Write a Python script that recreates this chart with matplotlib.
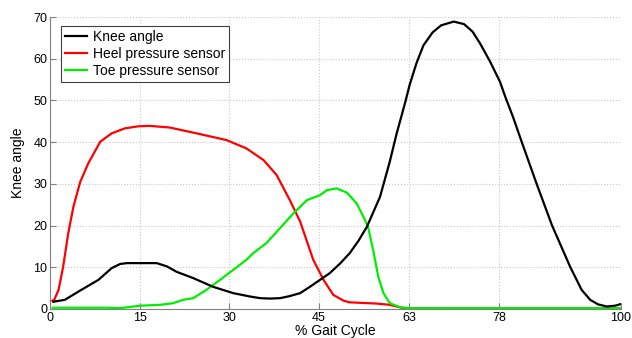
import numpy as np
import matplotlib
matplotlib.use("Agg")
import matplotlib.pyplot as plt
from matplotlib import rcParams

tick_font_size = 9
font_size = 10

rcParams.update({
    "font.family": ["Liberation Sans", "DejaVu Sans"],
    "font.size": font_size,
})

# knee angle (black)
knee_x = [0.6, 2.6, 5.5, 8.5, 10.8, 12.3, 13.5, 16, 18.7, 20.5, 22.2, 25.1, 28.6,
          32.1, 35, 36.8, 38.5, 40.3, 42, 43.8, 45.5, 47.3, 49, 50.8, 52.5, 54,
          55.5, 57.8, 59.5, 60.7, 62.2, 63, 64.2, 65.4, 67, 68.5, 70.7, 72.5,
          74, 75.3, 77, 78.8, 79.7, 81.1, 82.6, 85.2, 87.9, 91.1, 93.1, 94.6,
          96, 97.5, 99, 100]
knee_y = [1.75, 2.2, 4.6, 7, 9.8, 10.8, 11, 11, 11, 10.2, 8.9, 7.4, 5.3,
          3.8, 3.0, 2.6, 2.5, 2.6, 3.1, 3.8, 5.3, 7, 8.6, 10.9, 13.4, 16.3,
          19.7, 26.9, 35.3, 42, 49.5, 53.8, 59, 63.2, 66.3, 68, 68.9, 68.3,
          66.5, 63.7, 59.5, 54.5, 51, 46, 40.1, 30.1, 20.1, 10.1, 4.6, 2.2,
          1.1, 0.6, 0.8, 1.2]

# heel pressure sensor (red)
heel_x = [0.4, 0.6, 1.5, 2.3, 3.2, 4.1, 5.3, 6.7, 8.8, 10.8, 13.1, 15.5, 17.5,
          21, 25.7, 30.9, 34.4, 37.4, 39.7, 42, 43.8, 46.1, 47.9, 49.6, 51.4,
          52.5, 57.2, 59.5, 60.7, 62, 70, 80, 90, 100]
heel_y = [2, 1.75, 4.6, 10.1, 18.2, 24.5, 30.5, 34.9, 40.1, 42.1, 43.3, 43.8, 43.9,
          43.5, 42.1, 40.5, 38.5, 35.7, 32.1, 26.1, 21, 11.8, 7, 3.4, 2.0,
          1.6, 1.3, 1.0, 0.6, 0.2, 0.1, 0.1, 0.1, 0.1]

# toe pressure sensor (green)
toe_x = [0.5, 5, 10, 12.3, 15.8, 19.3, 21.6, 23.3, 25.1, 27.4, 29.8, 32.1, 34.4,
         35.6, 37.9, 40.3, 42.6, 43.8, 45, 47.3, 48.5, 50.2, 52, 53.7, 54.9,
         55.7, 56.6, 57.5, 58.4, 59.5, 61.3, 63, 70, 80, 90, 100]
toe_y = [0.3, 0.3, 0.3, 0.2, 0.8, 1.0, 1.4, 2.2, 2.6, 4.6, 7, 9.4, 11.8,
         13.4, 15.8, 19.4, 22.9, 24.5, 26.1, 27.3, 28.5, 28.9, 27.9, 25.3, 22.1,
         19.7, 14.1, 7.7, 3.8, 1.4, 0.4, 0.2, 0.2, 0.2, 0.2, 0.2]

xtick_pos = [0, 15.7, 31.4, 47.1, 62.9, 78.6, 100]
xtick_labels = ['0', '15', '30', '45', '63', '78', '100']
ytick_pos = [0, 10, 20, 30, 40, 50, 60, 70]

fig = plt.figure(figsize=(6.32, 3.38), dpi=100)
ax = fig.add_axes([0.0791, 0.0858, 0.9035, 0.8639])

ax.plot(knee_x, knee_y, color='black', linewidth=1.6, label='Knee angle', zorder=4)
ax.plot(heel_x, heel_y, color='#ff0000', linewidth=1.6, label='Heel pressure sensor', zorder=3)
ax.plot(toe_x, toe_y, color='#00ee00', linewidth=1.6, label='Toe pressure sensor', zorder=3)

ax.set_xlim(0, 100)
ax.set_ylim(0, 70)
ax.set_xticks(xtick_pos)
ax.set_xticklabels(xtick_labels)
ax.set_yticks(ytick_pos)

ax.grid(True, linestyle=':', color='#c8c8c8', linewidth=0.8)
ax.set_axisbelow(True)

ax.spines['top'].set_visible(False)
ax.spines['right'].set_visible(False)
ax.spines['left'].set_color('#808080')
ax.spines['bottom'].set_color('#808080')
ax.tick_params(direction='in', length=4, color='#808080', labelsize=tick_font_size, pad=2)

ax.set_xlabel('% Gait Cycle', fontsize=font_size, labelpad=0)
ax.set_ylabel('Knee angle', fontsize=font_size, labelpad=6)

leg = ax.legend(loc='upper left', bbox_to_anchor=(0.019, 0.97), borderaxespad=0,
                frameon=True, fancybox=False, edgecolor='#404040', framealpha=1,
                fontsize=font_size, labelspacing=0.22, handlelength=1.6,
                handletextpad=0.4, borderpad=0.3)
leg.get_frame().set_linewidth(0.8)

fig.savefig('out.png', dpi=100)
